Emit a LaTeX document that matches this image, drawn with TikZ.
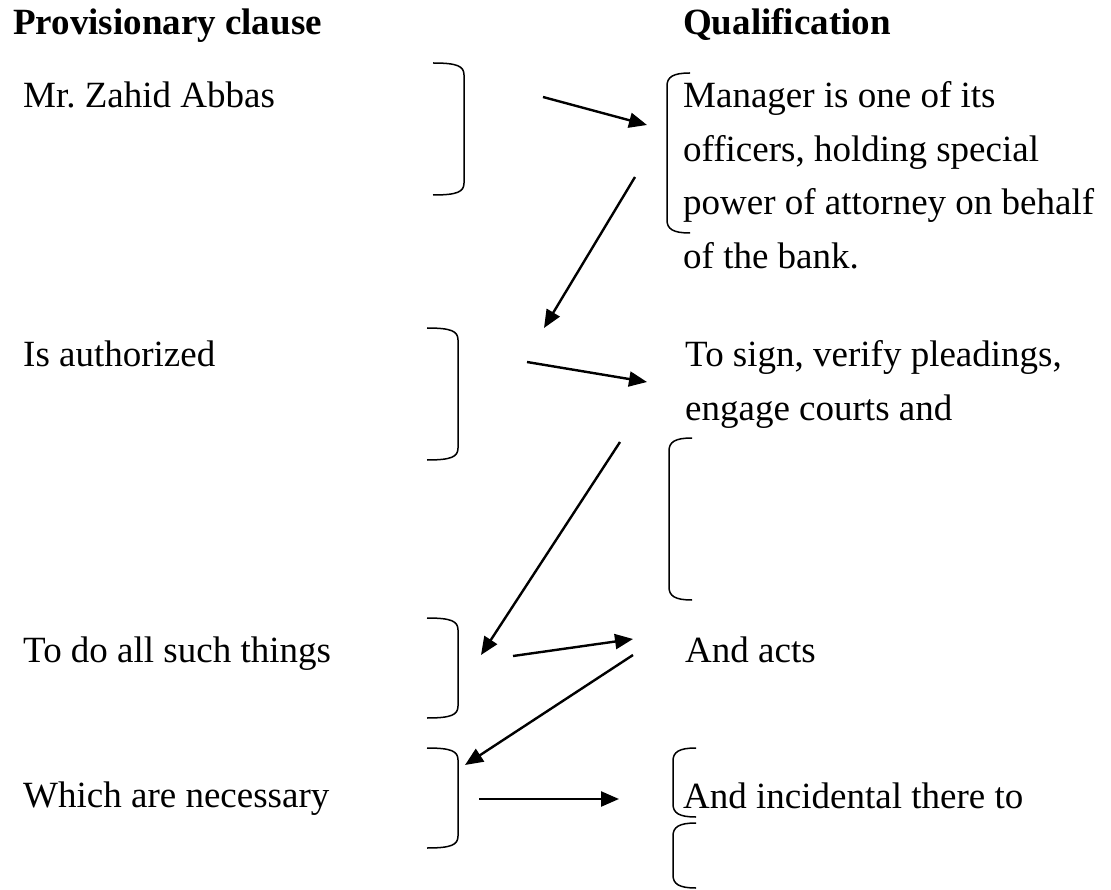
\documentclass[tikz,border=0pt]{standalone}
\usepackage{fontspec}
\setmainfont{Liberation Serif}
\usepackage{tikz}
\usetikzlibrary{positioning,arrows.meta}
\frenchspacing
\tikzset{
	txt/.style={anchor=base west,inner sep=0pt,font=\fontsize{37}{53.5}\selectfont},
	hdr/.style={txt,font=\fontsize{37}{44}\selectfont\bfseries},
	brk/.style={line width=1.5pt},
	arr/.style={line width=2.4pt,-{Triangle[length=18pt,width=15pt]}}
}
\newcommand{\closebrk}[3]{\draw[brk] (#1,#2) .. controls (#1+24,#2) and (#1+31,#2+3) .. (#1+31,#2+12) -- (#1+31,#3-12) .. controls (#1+31,#3-3) and (#1+24,#3) .. (#1,#3);}
\newcommand{\openbrk}[3]{\draw[brk] (#1+23,#2) .. controls (#1+6,#2) and (#1,#2+4) .. (#1,#2+13) -- (#1,#3-13) .. controls (#1,#3-4) and (#1+6,#3) .. (#1+23,#3);}
\begin{document}
\begin{tikzpicture}[x=1pt,y=-1pt]
	\useasboundingbox (0,0) rectangle (1111,890);
	
	%Titres
	\node[hdr] (provis) at (13,35) {Provisionary clause};
	\node[hdr] (qualif) at (683,35) {Qualification};
	
	%Colonne gauche
	\node[txt] (zahid) at (23,108) {Mr. Zahid Abbas};
	\node[txt] (author) at (23,367) {Is authorized};
	\node[txt] (things) at (23,662) {To do all such things};
	\node[txt] (necess) at (23,807) {Which are necessary};
	
	%Colonne droite
	\node[txt] (manager) at (683,108) {\begin{tabular}[t]{@{}l@{}}Manager is one of its\\ officers, holding special\\ power of attorney on behalf\\ of the bank.\end{tabular}};
	\node[txt] (sign) at (685,367) {\begin{tabular}[t]{@{}l@{}}To sign, verify pleadings,\\ engage courts and\end{tabular}};
	\node[txt] (acts) at (685,662) {And acts};
	\node[txt] (incid) at (683,808) {And incidental there to};
	
	%Crochets
	\closebrk{433}{63}{195}
	\closebrk{427}{328}{460}
	\closebrk{427}{618}{718}
	\closebrk{427}{748}{848}
	\openbrk{667}{73}{233}
	\openbrk{669}{438}{600}
	\openbrk{673}{748}{817}
	\openbrk{673}{823}{888}
	
	%Extremites des fleches
	\coordinate (A) at (543,97);
	\coordinate (B) at (647,125);
	\coordinate (C) at (635,177);
	\coordinate (D) at (544,328);
	\coordinate (E) at (527,362);
	\coordinate (F) at (647,382);
	\coordinate (G) at (620,442);
	\coordinate (H) at (481,655);
	\coordinate (I) at (513,656);
	\coordinate (J) at (633,639);
	\coordinate (K) at (633,655);
	\coordinate (L) at (465,765);
	\coordinate (M) at (479,799);
	\coordinate (N) at (619,799);
	
	%Fleches
	\draw[arr] (A) -- (B);
	\draw[arr] (C) -- (D);
	\draw[arr] (E) -- (F);
	\draw[arr] (G) -- (H);
	\draw[arr] (I) -- (J);
	\draw[arr] (K) -- (L);
	\draw[arr] (M) -- (N);
	
\end{tikzpicture}
\end{document}
